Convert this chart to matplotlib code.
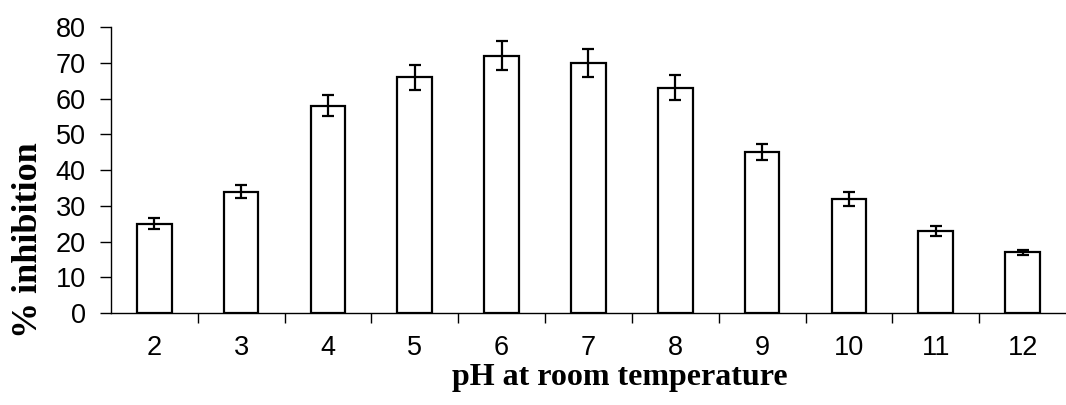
import numpy as np
import matplotlib.pyplot as plt

# data
ph = ['2', '3', '4', '5', '6', '7', '8', '9', '10', '11', '12']
inhibition = [25, 34, 58, 66, 72, 70, 63, 45, 32, 23, 17]
err = [1.5, 1.8, 3, 3.5, 4, 4, 3.5, 2.3, 2, 1.3, 0.7]

fig = plt.figure(figsize=(10.66, 4.05), dpi=100)
ax = fig.add_axes([0.104, 0.227, 0.896, 0.706])

x = np.arange(len(ph))
ax.bar(x, inhibition, width=0.4, color='white', edgecolor='black', linewidth=1.6,
       yerr=err, capsize=4.5, error_kw=dict(elinewidth=1.6, capthick=1.6, ecolor='black'))

ax.set_xlim(-0.5, len(ph) - 0.5)
ax.set_ylim(0, 80)
ax.set_yticks(range(0, 81, 10))
ax.tick_params(axis='y', labelsize=19.5, length=8, width=1, pad=10)

# ticks between categories, labels centred under bars
ax.set_xticks(x[:-1] + 0.5)
ax.set_xticklabels([])
ax.set_xticks(x, minor=True)
ax.set_xticklabels(ph, minor=True)
ax.tick_params(axis='x', which='major', length=7, width=1)
ax.tick_params(axis='x', which='minor', length=0, labelsize=19.5, pad=16)

for lab in ax.get_xticklabels(minor=True) + ax.get_yticklabels():
    lab.set_fontfamily('Liberation Sans')

ax.spines['top'].set_visible(False)
ax.spines['right'].set_visible(False)
ax.spines['left'].set_linewidth(1)
ax.spines['bottom'].set_linewidth(1)

ax.set_ylabel('% inhibition', fontfamily='Liberation Serif', fontweight='bold', fontsize=26, labelpad=8)
ax.set_xlabel('pH at room temperature', fontfamily='Liberation Serif', fontweight='bold', fontsize=23, labelpad=1)
ax.yaxis.label.set_y(0.255)
ax.xaxis.label.set_x(0.533)

fig.savefig('out.png', dpi=100)
